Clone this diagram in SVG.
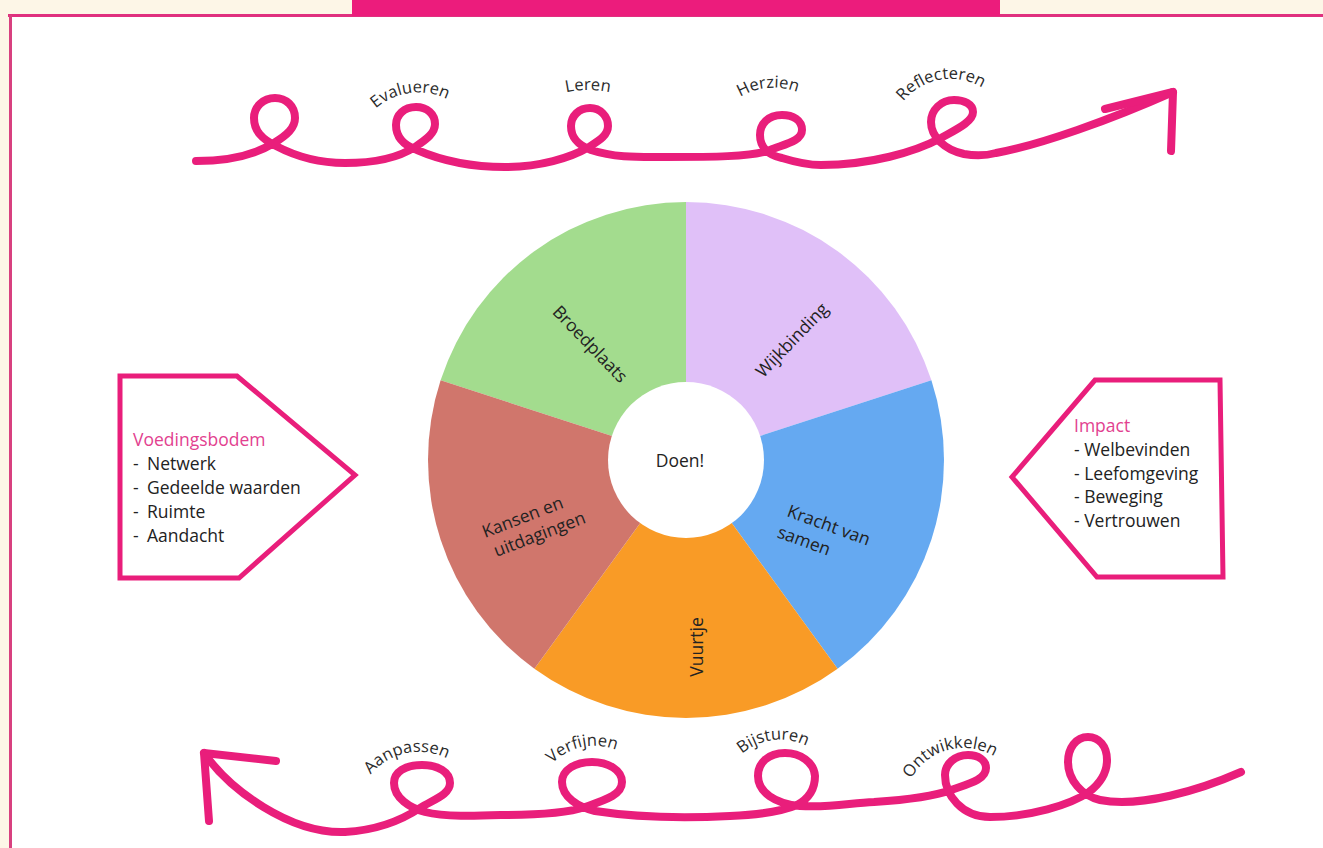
<svg xmlns="http://www.w3.org/2000/svg" width="1323" height="848" viewBox="0 0 1323 848">
<style>
.bg{fill:#fdf6e7}
.curl{fill:none;stroke:#e91e7b;stroke-width:8;stroke-linecap:round;stroke-linejoin:round}
.box{fill:#fff;stroke:#e91e7b;stroke-width:5;stroke-linejoin:miter}
.lbl{font-family:"Open Sans","Liberation Sans",sans-serif;font-size:16.5px;fill:#2b2b2b}
.wl{font-family:"Open Sans","Liberation Sans",sans-serif;font-size:17.5px;fill:#222}
.bt{font-family:"Open Sans","Liberation Sans",sans-serif;font-size:17.5px;fill:#222}
.hd{fill:#e2418f}
</style>
<defs>
<path id="aEval" d="M354.5,146.1 A65,65 0 0 1 482.5,146.1"/>
<path id="aLeren" d="M484.6,176.8 A105,105 0 0 1 691.4,176.8"/>
<path id="aHerz" d="M708.8,142.2 A66,66 0 0 1 838.8,142.2"/>
<path id="aRefl" d="M890.5,129.4 A61,61 0 0 1 1010.7,129.4"/>
<path id="aAanp" d="M357.1,803.7 A63,63 0 0 1 481.1,803.7"/>
<path id="aVerf" d="M536.2,794.5 A59,59 0 0 1 652.4,794.5"/>
<path id="aBijs" d="M722.1,788.4 A59,59 0 0 1 838.3,788.4"/>
<path id="aOntw" d="M904.4,797.6 A60,60 0 0 1 1022.6,797.6"/>
</defs>

<rect class="bg" x="0" y="0" width="1323" height="848"/>
<rect x="10" y="15" width="1320" height="840" fill="#fff"/>
<g id="frame">
<line x1="8" y1="15.5" x2="1323" y2="15.5" stroke="#e0307f" stroke-width="3"/>
<line x1="10.5" y1="15" x2="10.5" y2="848" stroke="#d8407f" stroke-width="3"/>
<rect x="352" y="0" width="648" height="16" fill="#ec1c7c"/>
</g>

<g id="connectors">
<path id="topCurl" class="curl" d="M196,161 C230,161 256,154 274,143 C287,135 295,128 295,118 C295,106 286,98 275,98 C263,98 254,107 254,118 C254,131 262,139 276,146 C295,156 320,163 345,163 C372,163 398,158 415,147 C427,139 435,133 435,124 C435,114 427,107 416,107 C404,107 396,115 396,125 C396,137 403,145 417,150 C440,160 470,167 505,167 C540,167 570,158 589,147 C600,140 608,135 608,126 C608,116 600,108 590,108 C579,108 571,116 571,126 C571,138 578,145 591,150 C615,158 640,157 665,157 C710,157 752,157 770,150 C785,144 802,141 802,130 C802,120 793,115 782,115 C768,115 760,124 760,135 C760,147 768,155 782,158 C795,162 808,165 821,165 C870,165 915,152 941,138 C955,130 973,122 973,112 C973,104 964,100 954,100 C941,100 931,110 931,122 C931,137 945,150 964,154 C975,156 985,156 996,153 C1040,145 1110,120 1173,92"/>
<path class="curl" d="M1105,109 L1173,92 L1171,151"/>
<path id="botCurl" class="curl" d="M204,753 C230,790 290,834 345,832 C380,830 405,818 420,808 C432,800 450,795 450,783 C450,772 438,765 422,765 C405,765 394,772 394,783 C394,798 410,808 425,812 C445,817 475,816 501,815 C530,815 565,814 585,807 C605,800 622,795 622,782 C622,770 608,762 592,762 C575,762 562,770 562,782 C562,797 578,807 595,811 C640,818 690,818 730,816 C755,815 780,812 797,805 C810,798 815,788 815,776 C814,762 800,753 785,753 C768,753 758,763 758,776 C758,792 775,804 800,806 C830,808 850,803 874,802 C905,800 935,796 951,790 C968,784 986,780 986,768 C986,760 978,755 968,755 C955,755 945,764 945,775 C945,795 962,817 990,817 C1030,817 1070,805 1089,792 C1102,782 1107,772 1107,760 C1107,746 1099,737 1088,737 C1076,737 1068,748 1068,762 C1068,780 1082,796 1100,800 C1140,808 1200,790 1241,772"/>
<path class="curl" d="M276,761 L204,753 L209,821"/>
</g>

<g id="loopLabels" class="lbl">
<text><textPath href="#aEval" startOffset="45.3%" text-anchor="middle">Evalueren</textPath></text>
<text><textPath href="#aLeren" startOffset="50%" text-anchor="middle">Leren</textPath></text>
<text><textPath href="#aHerz" startOffset="46.9%" text-anchor="middle">Herzien</textPath></text>
<text><textPath href="#aRefl" startOffset="43.8%" text-anchor="middle">Reflecteren</textPath></text>
<text><textPath href="#aAanp" startOffset="42.5%" text-anchor="middle">Aanpassen</textPath></text>
<text><textPath href="#aVerf" startOffset="42.5%" text-anchor="middle">Verfijnen</textPath></text>
<text><textPath href="#aBijs" startOffset="45.6%" text-anchor="middle">Bijsturen</textPath></text>
<text><textPath href="#aOntw" startOffset="40.6%" text-anchor="middle">Ontwikkelen</textPath></text>
</g>

<g id="wheel">
<g id="seg-broedplaats">
<path d="M686,460 L440.6,380.3 A258,258 0 0 1 686,202 Z" fill="#a3dc8e"/>
<text class="wl" transform="translate(590,344) rotate(46)" text-anchor="middle" y="6" fill="#1e3a1e">Broedplaats</text>
</g>
<g id="seg-wijkbinding">
<path d="M686,460 L686,202 A258,258 0 0 1 931.4,380.3 Z" fill="#e0c0f8"/>
<text class="wl" transform="translate(792,340) rotate(-46)" text-anchor="middle" y="6" fill="#35204a">Wijkbinding</text>
</g>
<g id="seg-kracht">
<path d="M686,460 L931.4,380.3 A258,258 0 0 1 837.6,668.7 Z" fill="#65a9f1"/>
<text class="wl" transform="translate(786,516) rotate(20)" fill="#0f2a4f"><tspan x="0" y="0">Kracht van</tspan><tspan x="-2" y="23">samen</tspan></text>
</g>
<g id="seg-vuurtje">
<path d="M686,460 L837.6,668.7 A258,258 0 0 1 534.4,668.7 Z" fill="#f99b26"/>
<text class="wl" transform="translate(697,647) rotate(-90)" text-anchor="middle" y="6" fill="#3a2200">Vuurtje</text>
</g>
<g id="seg-kansen">
<path d="M686,460 L534.4,668.7 A258,258 0 0 1 440.6,380.3 Z" fill="#d0766c"/>
<text class="wl" transform="translate(485,538) rotate(-21)" fill="#3e1616"><tspan x="0" y="0">Kansen en</tspan><tspan x="4" y="22">uitdagingen</tspan></text>
</g>
<g id="hub">
<circle cx="686" cy="460" r="78" fill="#fff"/>
<text class="wl" x="680" y="467" text-anchor="middle" fill="#333">Doen!</text>
</g>
</g>

<g id="voedingsbodem">
<path class="box" d="M120,376 L237,376 L355,475 L239,578 L120,578 Z"/>
<text class="bt"><tspan class="hd" x="133" y="446">Voedingsbodem</tspan><tspan x="133" y="470">-</tspan><tspan x="147" y="470">Netwerk</tspan><tspan x="133" y="494">-</tspan><tspan x="147" y="494">Gedeelde waarden</tspan><tspan x="133" y="518">-</tspan><tspan x="147" y="518">Ruimte</tspan><tspan x="133" y="542">-</tspan><tspan x="147" y="542">Aandacht</tspan></text>
</g>

<g id="impact">
<path class="box" d="M1095,380 L1220,380 L1223,577 L1097,577 L1012,477 Z"/>
<text class="bt"><tspan class="hd" x="1074" y="432">Impact</tspan><tspan x="1074" y="456">- Welbevinden</tspan><tspan x="1074" y="480">- Leefomgeving</tspan><tspan x="1074" y="503">- Beweging</tspan><tspan x="1074" y="527">- Vertrouwen</tspan></text>
</g>
</svg>
